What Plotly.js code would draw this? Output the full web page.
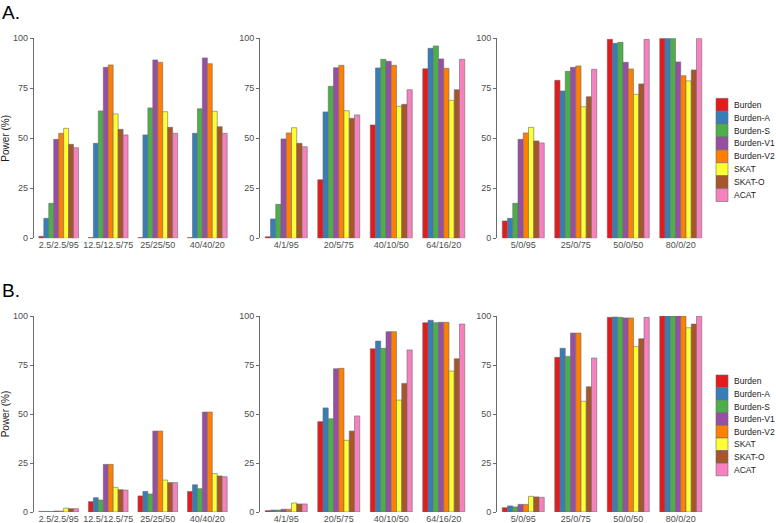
<!DOCTYPE html>
<html><head><meta charset="utf-8">
<script src="https://cdn.plot.ly/plotly-3.0.1.min.js"></script>
<style>html,body{margin:0;padding:0;background:#fff}</style>
</head><body><div id="chart" style="width:776px;height:523px"></div>
<script>
const methods = ['Burden','Burden-A','Burden-S','Burden-V1','Burden-V2','SKAT','SKAT-O','ACAT'];
const colors = ['#E41A1C','#377EB8','#4DAF4A','#984EA3','#FF7F00','#FFFF33','#A65628','#F781BF'];
const catsP1 = ['2.5/2.5/95','12.5/12.5/75','25/25/50','40/40/20'];
const catsP2 = ['4/1/95','20/5/75','40/10/50','64/16/20'];
const catsP3 = ['5/0/95','25/0/75','50/0/50','80/0/20'];
const yTicks = [0,25,50,75,100];

// one row per method (same order as methods), values across the 4 categories
const powerA1 = [
  [1, 0.4, 0.4, 0.4],
  [10, 47.5, 51.7, 52.5],
  [17.5, 63.7, 65.2, 64.8],
  [49.5, 85.5, 89.2, 90.2],
  [52.5, 86.7, 88, 87.3],
  [55, 62.2, 63.3, 63.5],
  [47, 54.5, 55.5, 55.8],
  [45.3, 51.7, 52.5, 52.5]
];
const powerA2 = [
  [0.8, 29.3, 56.7, 84.8],
  [9.7, 63.2, 85.2, 95],
  [17, 76, 89.5, 96.2],
  [49.7, 85.3, 88.5, 89.7],
  [52.7, 86.5, 86.5, 85],
  [55.3, 63.8, 66, 69],
  [47.5, 60, 67, 74.3],
  [45.8, 61.7, 74.3, 89.5]
];
const powerA3 = [
  [8.7, 79, 99.5, 100],
  [10, 73.7, 97.5, 100],
  [17.5, 83.5, 98, 100],
  [49.5, 85.5, 88, 88.2],
  [52.7, 86.2, 84.7, 81.3],
  [55.5, 65.8, 72, 78.7],
  [48.7, 70.8, 77.2, 84.2],
  [47.7, 84.5, 99.5, 100]
];
const powerB1 = [
  [0.3, 5.3, 8.2, 10.5],
  [0.3, 7.3, 10.5, 13.9],
  [0.3, 6.1, 9.2, 11.9],
  [0.5, 24.3, 41.3, 51],
  [0.5, 24.3, 41.3, 51],
  [2, 12.6, 16.3, 19.6],
  [1.7, 11.4, 15, 18.4],
  [1.7, 11.2, 15, 18]
];
const powerB2 = [
  [0.7, 46.1, 83.3, 96.6],
  [1, 53.1, 87.2, 97.8],
  [1, 47.6, 83.5, 96.6],
  [1.4, 73.1, 92, 96.8],
  [1.4, 73.3, 92, 96.8],
  [4.6, 36.6, 57.1, 71.9],
  [4.1, 41.3, 65.6, 78.2],
  [4.1, 49, 82.7, 95.9]
];
const powerB3 = [
  [2.2, 78.9, 99.3, 100],
  [3.1, 83.5, 99.5, 100],
  [2.6, 79.4, 99.3, 100],
  [3.9, 91.3, 99, 100],
  [3.9, 91.3, 99, 100],
  [8, 56.5, 84.4, 94],
  [7.7, 63.9, 88.4, 95.9],
  [7.5, 78.6, 99.3, 100]
];

const W = 776, H = 523;
const panels = [
  {cats: catsP1, vals: powerA1, row: 0, col: 0},
  {cats: catsP2, vals: powerA2, row: 0, col: 1},
  {cats: catsP3, vals: powerA3, row: 0, col: 2},
  {cats: catsP1, vals: powerB1, row: 1, col: 0},
  {cats: catsP2, vals: powerB2, row: 1, col: 1},
  {cats: catsP3, vals: powerB3, row: 1, col: 2}
];
const colPx = [[33.9, 232.1], [260, 470], [497, 707]];
const rowPx = [[38.3, 238.3], [316, 512]];
const tickGrey = '#4d4d4d';
const lineGrey = '#6b6b6b';
const fontFam = 'Liberation Sans, Arial, sans-serif';

const traces = [];
const layout = {
  width: W, height: H,
  margin: {l: 0, r: 0, t: 0, b: 0},
  paper_bgcolor: '#fff', plot_bgcolor: '#fff',
  showlegend: false,
  barmode: 'group', bargap: 0.2, bargroupgap: 0,
  font: {family: fontFam, size: 9, color: tickGrey},
  shapes: [], annotations: []
};

panels.forEach((p, k) => {
  const n = k + 1;
  const xa = n === 1 ? 'x' : 'x' + n;
  const ya = n === 1 ? 'y' : 'y' + n;
  methods.forEach((m, i) => {
    traces.push({
      type: 'bar', name: m, x: p.cats, y: p.vals[i],
      xaxis: xa, yaxis: ya,
      marker: {color: colors[i], line: {color: lineGrey, width: 0.6}},
      hoverinfo: 'x+y+name'
    });
  });
  const xd = colPx[p.col].map(v => v / W);
  const yd = [1 - rowPx[p.row][1] / H, 1 - rowPx[p.row][0] / H];
  layout['xaxis' + (n === 1 ? '' : n)] = {
    domain: xd, anchor: ya, type: 'category',
    showline: false, ticks: '', showgrid: false, zeroline: false,
    tickfont: {size: 9, color: tickGrey, family: fontFam},
    automargin: false, fixedrange: true
  };
  const yax = {
    domain: yd, anchor: xa, range: [0, 100],
    tickvals: yTicks, ticktext: yTicks.map(String),
    showline: true, linecolor: lineGrey, linewidth: 1,
    ticks: 'outside', ticklen: 3, tickcolor: lineGrey, tickwidth: 1,
    showgrid: false, zeroline: false,
    tickfont: {size: 9, color: tickGrey, family: fontFam},
    automargin: false, fixedrange: true
  };
  if (p.col === 0) {
    yax.title = {text: 'Power (%)', font: {size: 10, color: '#1a1a1a', family: fontFam}, standoff: 4};
  }
  layout['yaxis' + (n === 1 ? '' : n)] = yax;
});

// panel tags
layout.annotations.push({text: 'A.', xref: 'paper', yref: 'paper', x: 0, y: 1 - 12 / H,
  xanchor: 'left', yanchor: 'middle', showarrow: false, font: {size: 19, color: '#000', family: fontFam}});
layout.annotations.push({text: 'B.', xref: 'paper', yref: 'paper', x: 0, y: 1 - 290 / H,
  xanchor: 'left', yanchor: 'middle', showarrow: false, font: {size: 19, color: '#000', family: fontFam}});

// legends (one per row)
const legTop = [98.3, 375];
const legStep = [12.9, 12.6];
[0, 1].forEach(r => {
  methods.forEach((m, i) => {
    const t = legTop[r] + i * legStep[r];
    layout.shapes.push({type: 'rect', xref: 'paper', yref: 'paper',
      x0: 716 / W, x1: 728 / W, y0: 1 - (t + legStep[r]) / H, y1: 1 - t / H,
      fillcolor: colors[i], line: {color: lineGrey, width: 0.6}});
    layout.annotations.push({text: m, xref: 'paper', yref: 'paper',
      x: 731.5 / W, y: 1 - (t + legStep[r] / 2) / H, xanchor: 'left', yanchor: 'middle',
      showarrow: false, font: {size: 8.5, color: '#1a1a1a', family: fontFam}});
  });
});

Plotly.newPlot('chart', traces, layout, {displayModeBar: false, staticPlot: true});
</script>
</body></html>
